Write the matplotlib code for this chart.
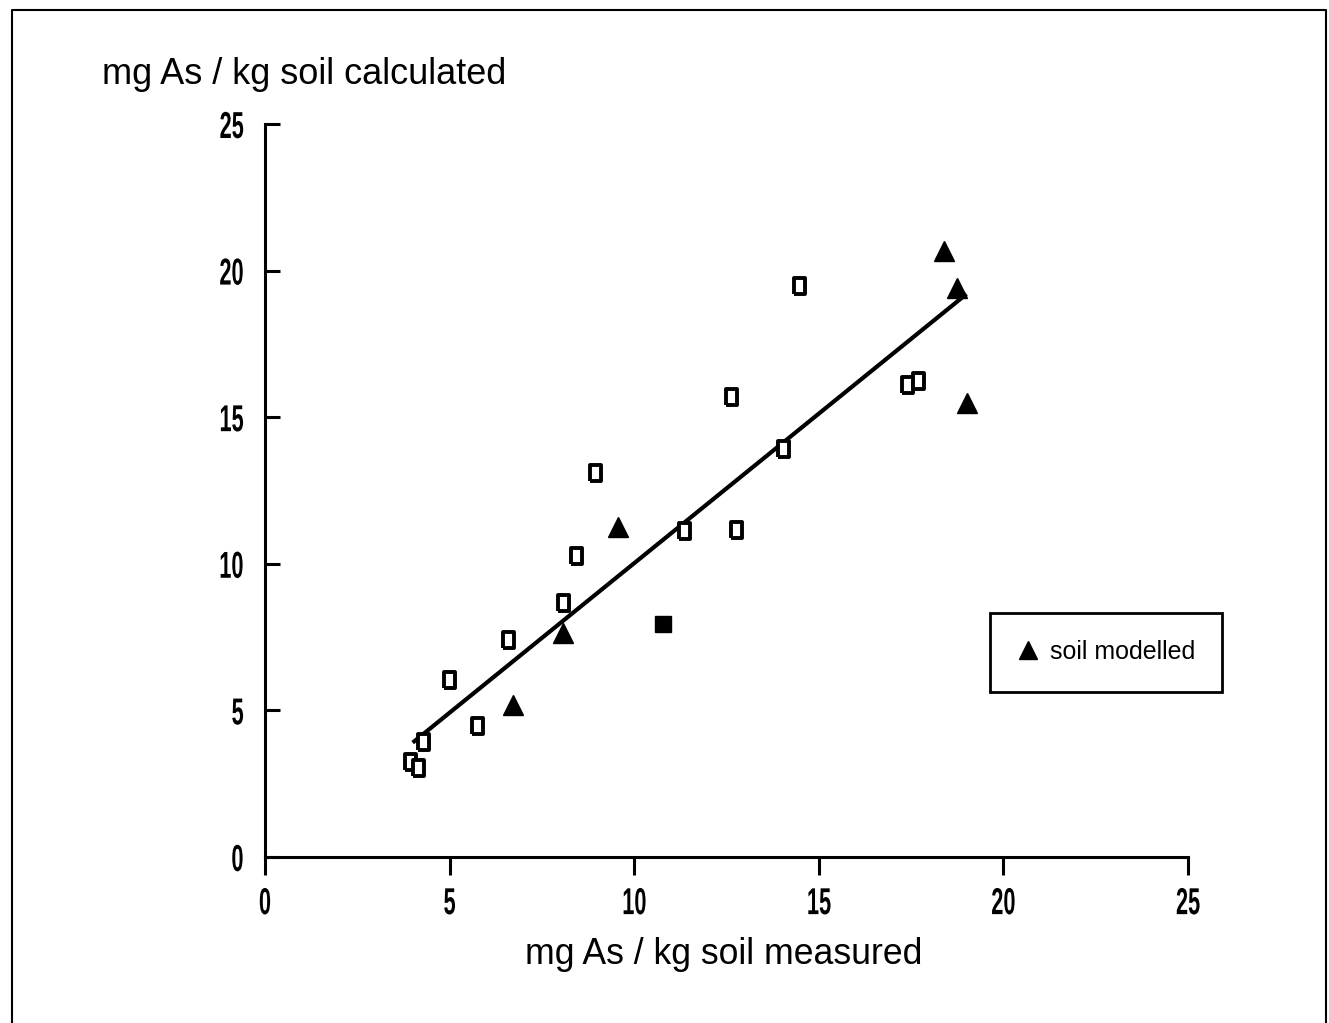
import numpy as np
import matplotlib.pyplot as plt
from matplotlib.lines import Line2D
from matplotlib.transforms import Affine2D
from matplotlib.patheffects import AbstractPathEffect

# =========================
# data
# =========================
meas_open = [3.93, 4.15, 4.28, 4.99, 5.75, 6.59, 8.08, 8.43, 8.94, 11.36,
             12.63, 12.76, 14.04, 14.47, 17.40, 17.70]
calc_open = [3.24, 3.04, 3.92, 6.04, 4.47, 7.41, 8.67, 10.27, 13.10, 11.13,
             15.70, 11.16, 13.92, 19.49, 16.10, 16.25]

meas_filled = [10.79]
calc_filled = [7.95]

meas_model = [6.72, 8.08, 9.57, 18.40, 18.73, 19.02]
calc_model = [5.19, 7.65, 11.26, 20.68, 19.42, 15.49]

fit_x = [4.0, 19.0]
fit_y = [3.9, 19.2]

ticks = [0, 5, 10, 15, 20, 25]

txt_font = ["Liberation Sans", "DejaVu Sans"]


# narrow plotter-like digits: squeeze the glyph paths horizontally
class Squeeze(AbstractPathEffect):
    def __init__(self, sx, anchor="center"):
        super().__init__()
        self.sx = sx
        self.anchor = anchor

    def draw_path(self, renderer, gc, tpath, affine, rgbFace=None):
        ext = tpath.get_extents()
        cx = ext.x1 if self.anchor == "right" else (ext.x0 + ext.x1) / 2
        squeeze = Affine2D().translate(-cx, 0).scale(self.sx, 1).translate(cx, 0)
        renderer.draw_path(gc, tpath, squeeze + affine, rgbFace)


# tall box marker for the open points
box = [(-0.72, -1.0), (0.72, -1.0), (0.72, 1.0), (-0.72, 1.0), (-0.72, -1.0)]

fig = plt.figure(figsize=(13.29, 10.23), dpi=100)
fig.patch.set_facecolor("white")
ax = fig.add_axes([0.1994, 0.1623, 0.6945, 0.7165])

ax.plot(fit_x, fit_y, color="black", linewidth=3, solid_capstyle="butt", zorder=2)
ax.plot(meas_open, calc_open, linestyle="none", marker=box, markersize=11,
        markerfacecolor="white", markeredgecolor="black", markeredgewidth=2.8, zorder=3)
ax.plot(meas_filled, calc_filled, linestyle="none", marker="s", markersize=11.5,
        color="black", zorder=3)
ax.plot(meas_model, calc_model, linestyle="none", marker="^", markersize=15,
        color="black", zorder=3)

ax.set_xlim(0, 25)
ax.set_ylim(0, 25)
ax.set_xticks(ticks)
ax.set_yticks(ticks)
ax.set_xticklabels([str(t) for t in ticks], family=txt_font, fontsize=27, fontweight="bold")
ax.set_yticklabels([str(t) for t in ticks], family=txt_font, fontsize=27, fontweight="bold")
for lab in ax.get_xticklabels():
    lab.set_path_effects([Squeeze(0.58, "center")])
for lab in ax.get_yticklabels():
    lab.set_path_effects([Squeeze(0.58, "right")])

ax.spines["top"].set_visible(False)
ax.spines["right"].set_visible(False)
ax.spines["left"].set_linewidth(2.2)
ax.spines["bottom"].set_linewidth(2.2)
ax.tick_params(axis="x", direction="out", length=13, width=2.2, pad=8)
ax.tick_params(axis="y", direction="in", length=11, width=2.2, pad=15)

# axis titles
fig.text(102 / 1329, 1 - 75 / 1023, "mg As / kg soil calculated",
         family=txt_font, fontsize=26, ha="left", va="center")
fig.text(724 / 1329, 1 - 955 / 1023, "mg As / kg soil measured",
         family=txt_font, fontsize=25.7, ha="center", va="center")

# legend box
handle = Line2D([], [], linestyle="none", marker="^", markersize=13, color="black")
leg = ax.legend([handle], ["soil modelled"], loc="center",
                bbox_to_anchor=(1106 / 1329, 1 - 652 / 1023),
                bbox_transform=fig.transFigure, prop={"family": txt_font, "size": 18},
                frameon=True, fancybox=False, edgecolor="black", framealpha=1,
                borderpad=1.1, handlelength=0.9, handletextpad=0.4,
                borderaxespad=0)
leg.get_frame().set_linewidth(2)

# page frame from the scan (open at the bottom)
fx = [12 / 1329, 12 / 1329, 1326 / 1329, 1326 / 1329]
fy = [0.0, 1 - 10 / 1023, 1 - 10 / 1023, 0.0]
fig.add_artist(Line2D(fx, fy, transform=fig.transFigure, color="black", linewidth=1.5))

plt.savefig("out.png", dpi=100, facecolor="white")
plt.close()
